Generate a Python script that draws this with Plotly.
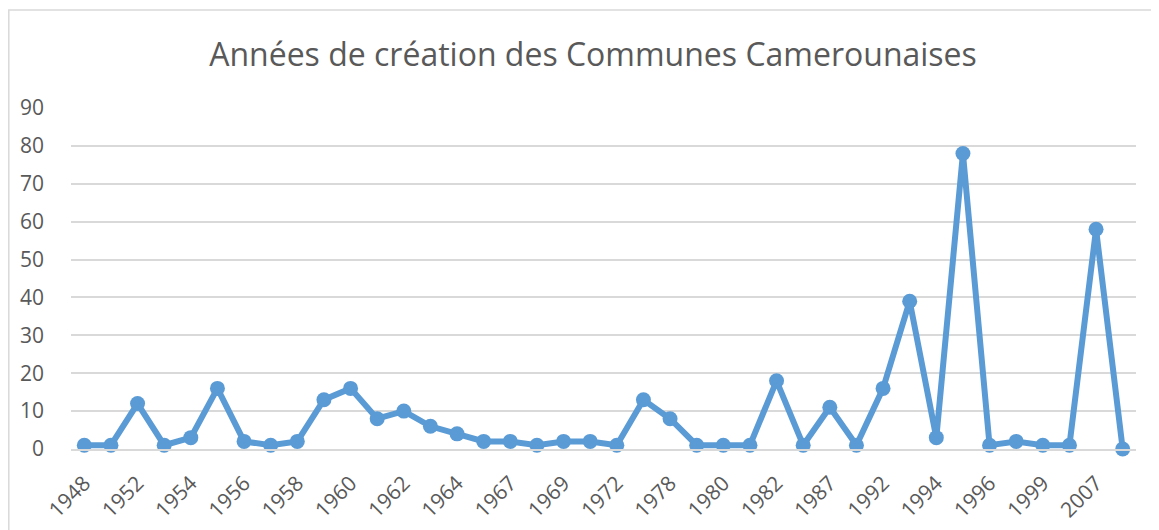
import plotly.graph_objects as go

years = ["1948", "1951", "1952", "1953", "1954", "1955", "1956", "1957", "1958", "1959",
         "1960", "1961", "1962", "1963", "1964", "1966", "1967", "1968", "1969", "1970",
         "1972", "1974", "1978", "1979", "1980", "1981", "1982", "1984", "1987", "1990",
         "1992", "1993", "1994", "1995", "1996", "1998", "1999", "2004", "2007", "2008"]
counts = [1, 1, 12, 1, 3, 16, 2, 1, 2, 13,
          16, 8, 10, 6, 4, 2, 2, 1, 2, 2,
          1, 13, 8, 1, 1, 1, 18, 1, 11, 1,
          16, 39, 3, 78, 1, 2, 1, 1, 58, 0]
shown_ticks = years[::2]
y_ticks = [0, 10, 20, 30, 40, 50, 60, 70, 80, 90]

OFF = 8  # page body margin
W, H = 1159 - OFF, 530 - OFF
L, R, T, B = 71 - OFF, 1136 - OFF, 108 - OFF, 449 - OFF

fig = go.Figure()
fig.add_trace(go.Scatter(
    x=years, y=counts, mode="lines+markers",
    line=dict(color="#5B9BD5", width=6),
    marker=dict(color="#5B9BD5", size=15),
    cliponaxis=False, showlegend=False,
))

def px_x(p):
    return (p - OFF - L) / (R - L)

def px_y(p):
    return (B - (p - OFF)) / (B - T)

fig.add_shape(type="rect", xref="paper", yref="paper",
              x0=px_x(8.8), x1=px_x(1180), y0=px_y(545), y1=px_y(10),
              line=dict(color="#D9D9D9", width=1.5), layer="below")

fig.update_layout(
    width=W, height=H,
    margin=dict(l=L, r=W - R, t=T, b=H - B, pad=0, autoexpand=False),
    paper_bgcolor="white", plot_bgcolor="white",
    font=dict(family="Open Sans", color="#595959", size=21),
    title=dict(text="Années de création des Communes Camerounaises",
               x=(593 - OFF) / W, xref="container", xanchor="center",
               y=1 - (55 - OFF) / H, yref="container", yanchor="middle",
               font=dict(size=32, color="#595959", family="Open Sans")),
    xaxis=dict(type="category", categoryorder="array", categoryarray=years,
               range=[-0.5, len(years) - 0.5], automargin=False,
               tickmode="array", tickvals=shown_ticks, ticktext=shown_ticks,
               tickangle=-45, showgrid=False, showline=True,
               linecolor="#D9D9D9", linewidth=1.5, ticks="", zeroline=False,
               ticklabelstandoff=12,
               tickfont=dict(size=21, color="#595959")),
    yaxis=dict(range=[0, 90], tickmode="array", tickvals=y_ticks, automargin=False,
               showgrid=True, gridcolor="#D9D9D9", gridwidth=1.5,
               zeroline=False, showline=False, ticks="",
               ticklabelstandoff=26,
               tickfont=dict(size=21, color="#595959")),
)

fig.write_html("out.html")
